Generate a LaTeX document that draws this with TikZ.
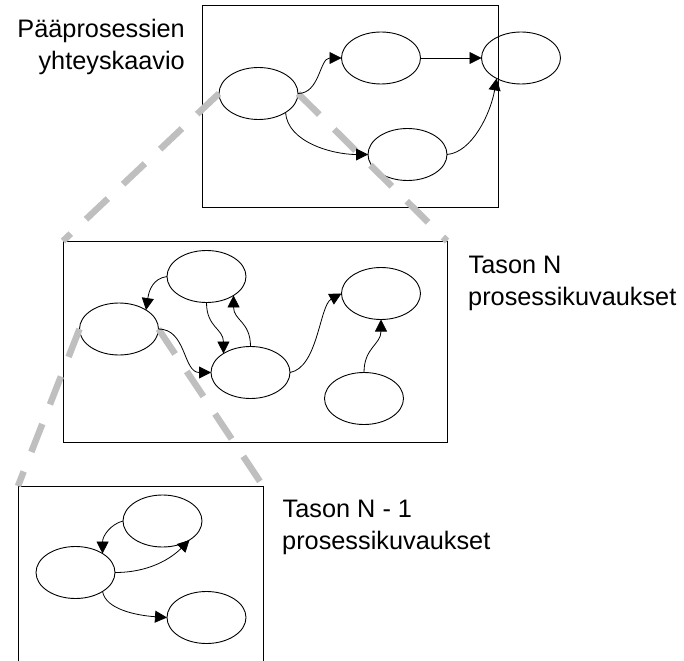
\documentclass[tikz,border=0pt]{standalone}
\usepackage{fontspec}
\setmainfont{Liberation Sans}
\usetikzlibrary{shapes.geometric,arrows.meta}
\begin{document}
\begin{tikzpicture}[x=1pt,y=-1pt,
  proc/.style={ellipse,draw,line width=0.9pt,minimum width=79pt,minimum height=52pt,inner sep=0pt,outer sep=0pt},
  frame/.style={draw,line width=1pt,inner sep=0pt,outer sep=0pt},
  flow/.style={line width=0.8pt,-{Triangle[length=12pt,width=12pt]}},
  zoomline/.style={draw=gray!50,line width=6.5pt,dash pattern=on 30pt off 21pt},
  lbl/.style={inner sep=0pt,font=\fontsize{25.3}{31}\selectfont}
]
\useasboundingbox (0,0) rectangle (684,660);

% frames
\node[frame,minimum width=296pt,minimum height=201pt,anchor=north west] (topbox) at (202,6) {};
\node[frame,minimum width=384pt,minimum height=201pt,anchor=north west] (midbox) at (63,241) {};
\coordinate (botTL) at (18,486);
\coordinate (botTR) at (263,486);
\coordinate (botBL) at (18,680);
\coordinate (botBR) at (263,680);
\draw[line width=1pt] (botBL) -- (botTL) -- (botTR) -- (botBR);

% ellipses
\node[proc] (E1) at (258.5,93.5) {};
\node[proc] (E2) at (381,58) {};
\node[proc] (E3) at (521,58) {};
\node[proc] (E4) at (407.5,154.5) {};
\node[proc] (M1) at (206.5,276.5) {};
\node[proc] (M2) at (119,329) {};
\node[proc] (M3) at (250.5,372.5) {};
\node[proc] (M4) at (381,293.5) {};
\node[proc] (M5) at (364,398.5) {};
\node[proc] (B1) at (162.5,521) {};
\node[proc] (B2) at (75.5,572.5) {};
\node[proc] (B3) at (206.5,617.5) {};

% zoom lines
\draw[zoomline] (E1.west) -- (midbox.north west);
\draw[zoomline] (E1.east) -- (midbox.north east);
\draw[zoomline] (M2.west) -- (botTL);
\draw[zoomline] (M2.east) -- (botTR);

% top arrows
\draw[flow] (E1.east) .. controls +(22,0) and +(-22,0) .. (E2.west);
\draw[flow] (E2.east) -- (E3.west);
\draw[flow] (E1.-35) .. controls +(2,30) and +(-35,0) .. (E4.west);
\draw[flow] (E4.east) .. controls +(25,-2) and +(-6,35) .. (E3.-140);

% middle arrows
\draw[flow] (M1.west) .. controls +(-14,2) and +(3,-20) .. (M2.35);
\draw[flow] (M1.south) .. controls +(0,25) and +(0,-25) .. (M3.145);
\draw[flow] (M3.north) .. controls +(0,-25) and +(0,25) .. (M1.-35);
\draw[flow] (M2.east) .. controls +(28,0) and +(-28,0) .. (M3.west);
\draw[flow] (M3.east) .. controls +(28,-5) and +(-22,12) .. (M4.west);
\draw[flow] (M5.north) .. controls +(0,-25) and +(0,25) .. (M4.south);

% bottom arrows
\draw[flow] (B1.west) .. controls +(-12,3) and +(0,-18) .. (B2.35);
\draw[flow] (B2.east) .. controls +(35,0) and +(-18,18) .. (B1.-35);
\draw[flow] (B2.-35) .. controls +(3,18) and +(-30,-2) .. (B3.west);

% labels
\node[lbl,anchor=base east] (t1) at (185,38) {Pääprosessien};
\node[lbl,anchor=base east] (t2) at (185,69.5) {yhteyskaavio};
\node[lbl,anchor=base west] (t3) at (468.5,273) {Tason N};
\node[lbl,anchor=base west] (t4) at (468,305) {prosessikuvaukset};
\node[lbl,anchor=base west] (t5) at (282.5,517) {Tason N - 1};
\node[lbl,anchor=base west] (t6) at (282,549) {prosessikuvaukset};
\end{tikzpicture}
\end{document}
